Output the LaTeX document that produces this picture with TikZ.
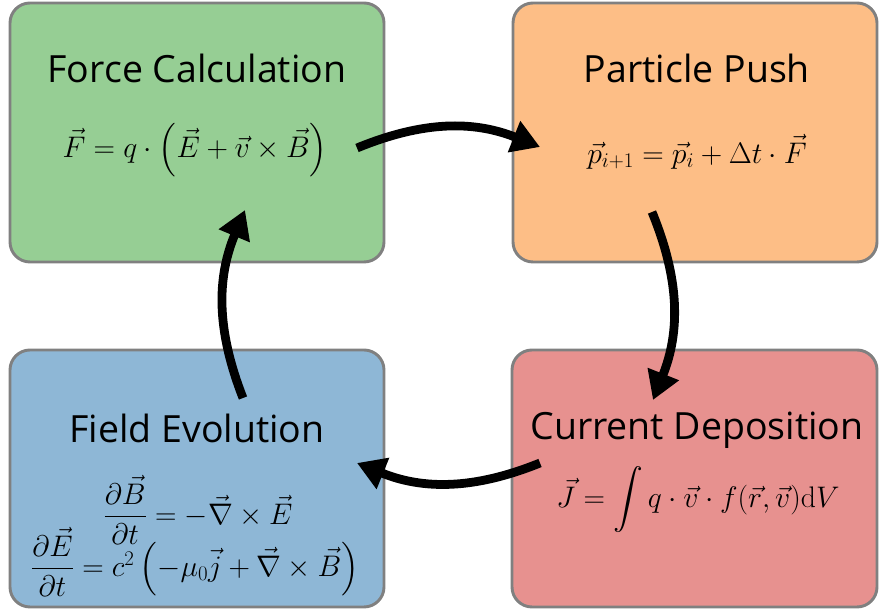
\RequirePackage{fix-cm}
\documentclass[tikz,border=0pt]{standalone}
\usepackage{amsmath,amssymb}
\usepackage{fontspec}
\newfontfamily\titlefont{Open Sans}
\usetikzlibrary{arrows.meta}

\definecolor{forcegreen}{RGB}{150,206,148}
\definecolor{pushorange}{RGB}{253,190,134}
\definecolor{fieldblue}{RGB}{142,183,214}
\definecolor{currentred}{RGB}{231,145,143}
\definecolor{stagegray}{RGB}{128,128,128}

\begin{document}
\begin{tikzpicture}[
  stage/.style={rectangle, rounded corners=0.6cm, draw=stagegray, line width=2.5pt, minimum width=11.22cm, minimum height=7.77cm},
  title/.style={anchor=base, font=\titlefont\fontsize{32}{38}\selectfont},
  formula/.style={font=\fontsize{25.4}{30}\selectfont},
  flow/.style={draw, -{Triangle[length=0.84cm, width=0.96cm]}, line width=7.5pt, bend left=22}
]
\useasboundingbox (0,0) rectangle (26.37,18.36);

% the four stages of the loop
\node[stage, fill=forcegreen] (force) at (5.91,14.385) {};
\node[stage, fill=pushorange, minimum width=10.92cm] (push) at (20.85,14.385) {};
\node[stage, fill=fieldblue, minimum height=7.71cm] (field) at (5.91,4.005) {};
\node[stage, fill=currentred, minimum width=10.95cm, minimum height=7.71cm] (current) at (20.835,4.005) {};

\node[title] (force-title) at (5.91,15.87) {Force Calculation};
\node[formula] (force-eq) at (5.85,13.86) {$\vec{F} = q \cdot \left(\vec{E} + \vec{v} \times \vec{B}\right)$};

\node[title] (push-title) at (20.91,15.87) {Particle Push};
\node[formula] (push-eq) at (20.91,13.8) {$\vec{p}_{i+1} = \vec{p}_i + \Delta t \cdot \vec{F}$};

\node[title] (current-title) at (20.91,5.16) {Current Deposition};
\node[formula] (current-eq) at (20.94,3.36) {$\vec{J} = \displaystyle\int q \cdot \vec{v} \cdot f(\vec{r}, \vec{v}) \mathrm{d}V$};

\node[title] (field-title) at (5.91,5.07) {Field Evolution};
\node[formula] (field-eq1) at (5.94,3.06) {$\dfrac{\partial \vec{B}}{\partial t} = -\vec{\nabla} \times \vec{E}$};
\node[formula] (field-eq2) at (5.85,1.5) {$\dfrac{\partial \vec{E}}{\partial t} = c^2 \left(-\mu_0 \vec{j} + \vec{\nabla} \times \vec{B}\right)$};

% arrow ends
\coordinate (force-out) at (10.71,13.92);
\coordinate (push-in) at (16.2,13.95);
\coordinate (push-out) at (19.56,12.0);
\coordinate (current-in) at (19.59,6.36);
\coordinate (current-out) at (16.2,4.47);
\coordinate (field-in) at (10.71,4.47);
\coordinate (field-out) at (7.29,6.42);
\coordinate (force-in) at (7.35,12.06);

\draw[flow] (force-out) to (push-in);
\draw[flow] (push-out) to (current-in);
\draw[flow] (current-out) to (field-in);
\draw[flow] (field-out) to (force-in);
\end{tikzpicture}
\end{document}
